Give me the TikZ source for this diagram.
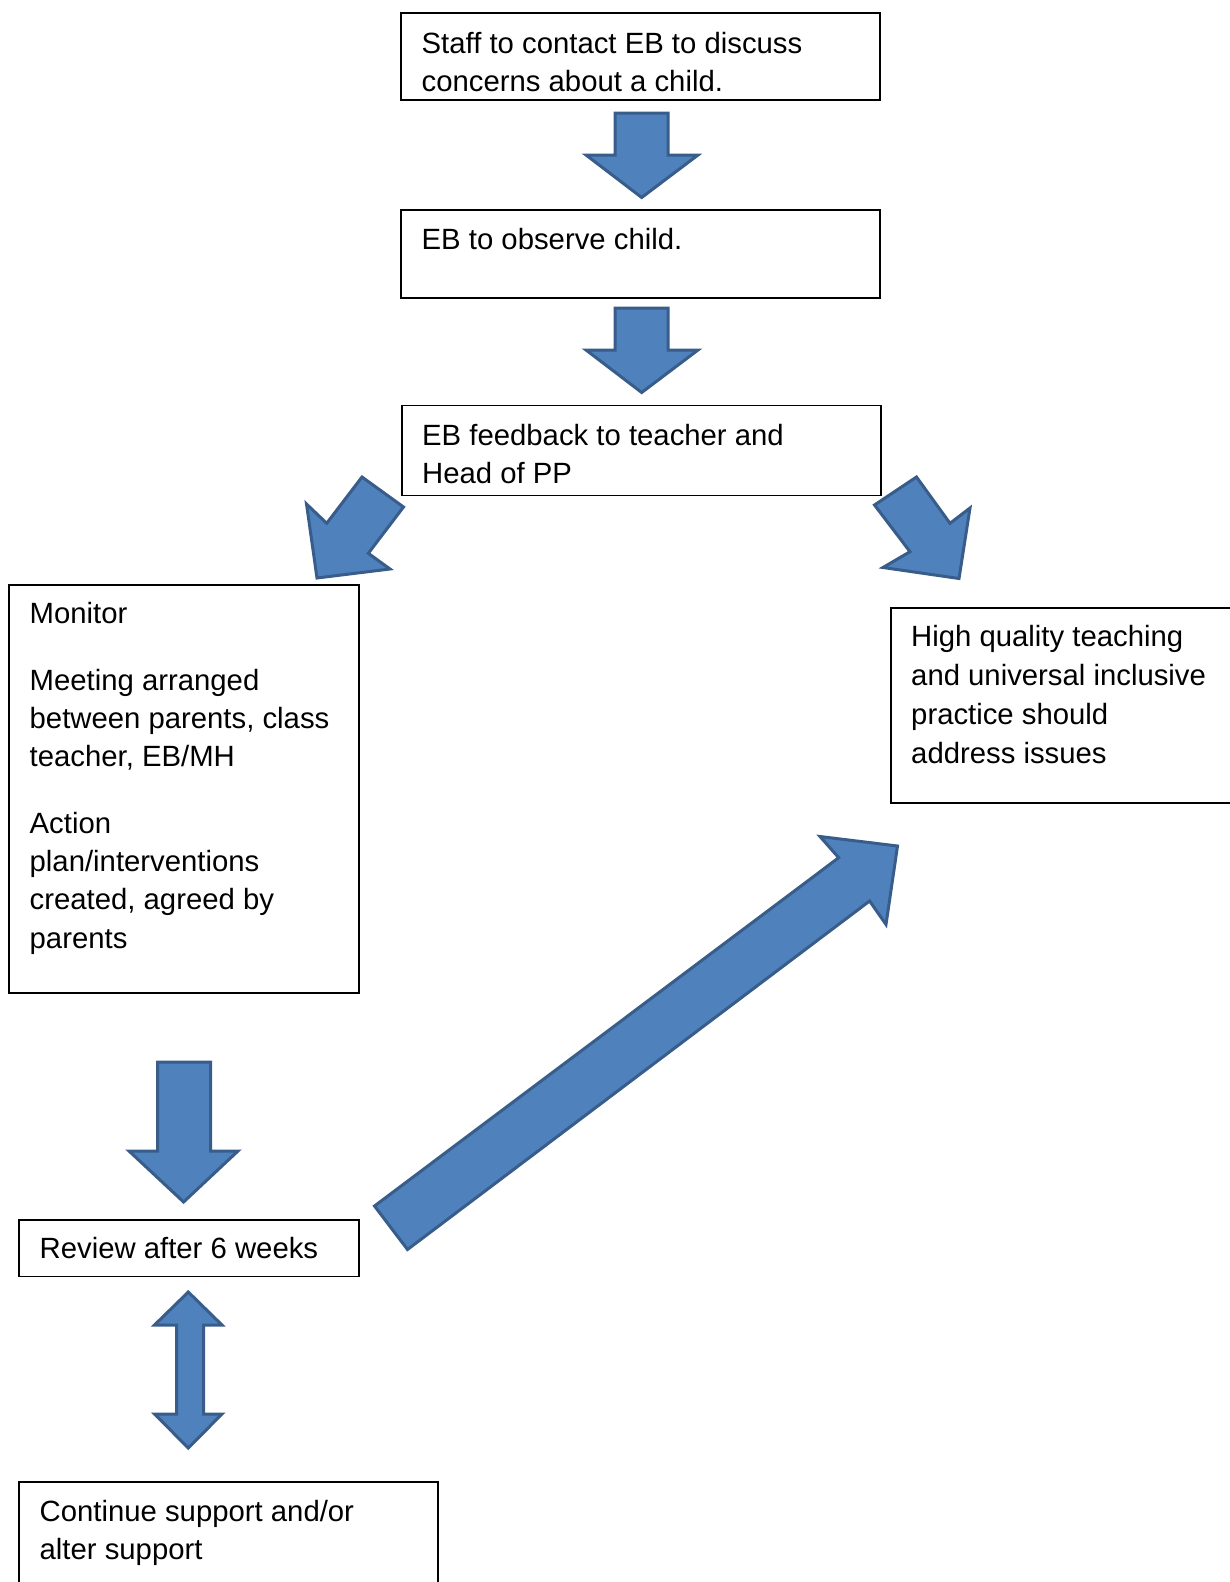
\documentclass[tikz,border=0pt]{standalone}
\usepackage{fontspec}
\setmainfont{Liberation Sans}
\definecolor{arrowfill}{HTML}{4F81BD}
\definecolor{arrowline}{HTML}{385D8A}
\begin{document}
\begin{tikzpicture}[x=1pt,y=-1pt,
  boxframe/.style={draw=black,line width=1.6pt,fill=white},
  txt/.style={anchor=base west,inner sep=0pt,font=\fontsize{29.3}{36}\selectfont},
  blockarrow/.style={fill=arrowfill,draw=arrowline,line width=3pt,line join=miter}]
\useasboundingbox (0,0) rectangle (1230,1582);
\clip (0,0) rectangle (1230,1582);
% boxes
\draw[boxframe] (401,13) rectangle (880,100);
\draw[boxframe] (401,210) rectangle (880,297.7);
\draw[boxframe] (402,405.6) rectangle (881,495.4);
\draw[boxframe] (9.1,585) rectangle (359.2,992.9);
\draw[boxframe] (891,608) rectangle (1245,803);
\draw[boxframe] (19.2,1220) rectangle (359.2,1276.4);
\draw[boxframe] (19.2,1482) rectangle (438,1600);
% texts
\node[txt] (t1a) at (421.5,53) {Staff to contact EB to discuss};
\node[txt] (t1b) at (421.5,91.8) {concerns about a child.};
\node[txt] (t2a) at (421.5,249.5) {EB to observe child.};
\node[txt] (t3a) at (422,445) {EB feedback to teacher and};
\node[txt] (t3b) at (422,483.5) {Head of PP};
\node[txt] (m1) at (29.5,623.3) {Monitor};
\node[txt] (m2) at (29.5,690) {Meeting arranged};
\node[txt] (m3) at (29.5,728.3) {between parents, class};
\node[txt] (m4) at (29.5,766.6) {teacher, EB/MH};
\node[txt] (m5) at (29.5,833.3) {Action};
\node[txt] (m6) at (29.5,871.6) {plan/interventions};
\node[txt] (m7) at (29.5,909.9) {created, agreed by};
\node[txt] (m8) at (29.5,948.2) {parents};
\node[txt] (h1) at (911,646.5) {High quality teaching};
\node[txt] (h2) at (911,685.8) {and universal inclusive};
\node[txt] (h3) at (911,724.1) {practice should};
\node[txt] (h4) at (911,763.5) {address issues};
\node[txt] (r1) at (39.5,1258.9) {Review after 6 weeks};
\node[txt] (c1) at (39.5,1521.3) {Continue support and/or};
\node[txt] (c2) at (39.5,1559.6) {alter support};
% block arrows
\draw[blockarrow] (615,113) -- (668,113) -- (668,155) -- (698,155) -- (641.7,197.5) -- (586,155) -- (615,155) -- cycle;
\draw[blockarrow] (615,308) -- (668,308) -- (668,350) -- (698,350) -- (641.7,392.5) -- (586,350) -- (615,350) -- cycle;
\draw[blockarrow] (157.5,1062) -- (210.5,1062) -- (210.5,1151) -- (238,1151) -- (183.6,1202) -- (129,1151) -- (157.5,1151) -- cycle;
\draw[blockarrow] (188.3,1292) -- (222,1325) -- (203.5,1325) -- (203.5,1414) -- (222,1414) -- (188.3,1448) -- (154.5,1414) -- (176.5,1414) -- (176.5,1325) -- (154.5,1325) -- cycle;
\draw[blockarrow] (362,477) -- (403.5,507) -- (368.3,553.3) -- (390,569) -- (317,578) -- (306.5,504) -- (326.7,523.3) -- cycle;
\draw[blockarrow] (874.5,505) -- (916.5,477) -- (950,523.3) -- (970,508) -- (959,578.5) -- (883,567.5) -- (910,551.7) -- cycle;
\draw[blockarrow] (374.5,1206) -- (407.5,1249.5) -- (869.6,901) -- (886,924.5) -- (897.5,846) -- (820,836.5) -- (838.7,857.7) -- cycle;
\end{tikzpicture}
\end{document}
